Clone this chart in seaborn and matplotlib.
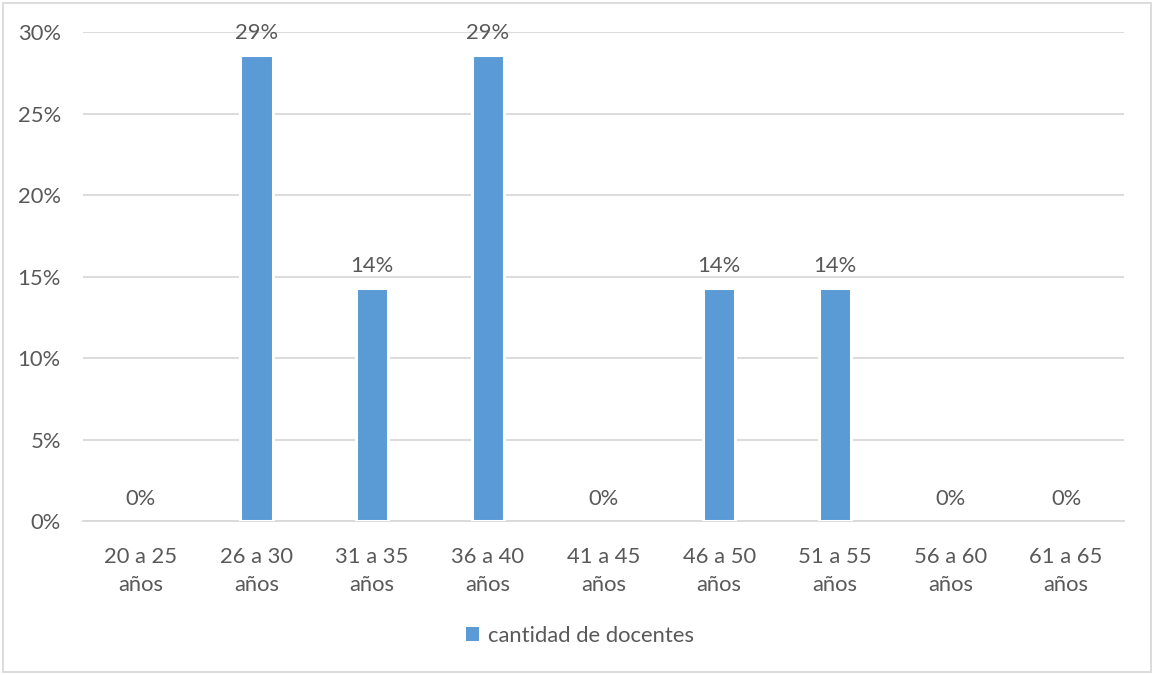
import matplotlib
matplotlib.use("Agg")
import matplotlib.pyplot as plt
from matplotlib.patches import Rectangle
import seaborn as sns
import pandas as pd

# Distribución por rango de edad
categorias = ["20 a 25\naños", "26 a 30\naños", "31 a 35\naños", "36 a 40\naños",
              "41 a 45\naños", "46 a 50\naños", "51 a 55\naños", "56 a 60\naños",
              "61 a 65\naños"]
porcentajes = [0.0, 2 / 7, 1 / 7, 2 / 7, 0.0, 1 / 7, 1 / 7, 0.0, 0.0]
serie = "cantidad de docentes"
y_ticks = [0.0, 0.05, 0.10, 0.15, 0.20, 0.25, 0.30]

BAR = "#5B9BD5"
TXT = "#595959"
GRID = "#D9D9D9"
FS = 15.8

sns.set_theme(style="white")
plt.rcParams["font.family"] = ["Lato", "DejaVu Sans"]

df = pd.DataFrame({"rango": categorias, "valor": porcentajes})

fig = plt.figure(figsize=(11.54, 6.75), dpi=100)
ax = fig.add_axes([0.0719, 0.2281, 0.9021, 0.7245])

sns.barplot(data=df, x="rango", y="valor", color=BAR, width=0.28,
            saturation=1, edgecolor="white", linewidth=2.2, label=serie,
            legend=False, ax=ax, zorder=3)
# Las barras vacías no deben cortar el eje
for p in ax.patches:
    if p.get_height() == 0:
        p.set_linewidth(0)

ax.set_ylim(0, 0.30)
ax.set_xlim(-0.5, len(categorias) - 0.5)
ax.set_yticks(y_ticks)
ax.set_yticklabels([f"{t * 100:.0f}%" for t in y_ticks])
ax.yaxis.grid(True, color=GRID, linewidth=1.3, zorder=0)
ax.set_axisbelow(True)
for s in ["top", "right", "left"]:
    ax.spines[s].set_visible(False)
ax.spines["bottom"].set_color(GRID)
ax.spines["bottom"].set_linewidth(1.3)
ax.spines["bottom"].set_zorder(1)

ax.tick_params(axis="y", length=0, pad=16, labelsize=FS, labelcolor=TXT)
ax.tick_params(axis="x", length=0, pad=18.5, labelsize=FS, labelcolor=TXT)
for lbl in ax.get_xticklabels():
    lbl.set_linespacing(1.5)
ax.set_xlabel("")
ax.set_ylabel("")
if ax.get_legend() is not None:
    ax.get_legend().remove()

# Etiquetas de datos sobre cada barra
for cont in ax.containers:
    ax.bar_label(cont, labels=[f"{v * 100:.0f}%" for v in porcentajes],
                 padding=9, fontsize=FS, color=TXT)

handles = [Rectangle((0, 0), 1, 1, facecolor=BAR, edgecolor="none")]
fig.legend(handles, [serie], loc="center", bbox_to_anchor=(0.503, 0.058),
           frameon=False, fontsize=FS, labelcolor=TXT,
           handlelength=0.55, handleheight=0.55, handletextpad=0.45)

# Borde exterior del gráfico
fig.patches.append(Rectangle((0.003, 0.005), 0.994, 0.99, transform=fig.transFigure,
                             fill=False, edgecolor=GRID, linewidth=1.3))

fig.savefig("out.png", dpi=100, facecolor="white")
